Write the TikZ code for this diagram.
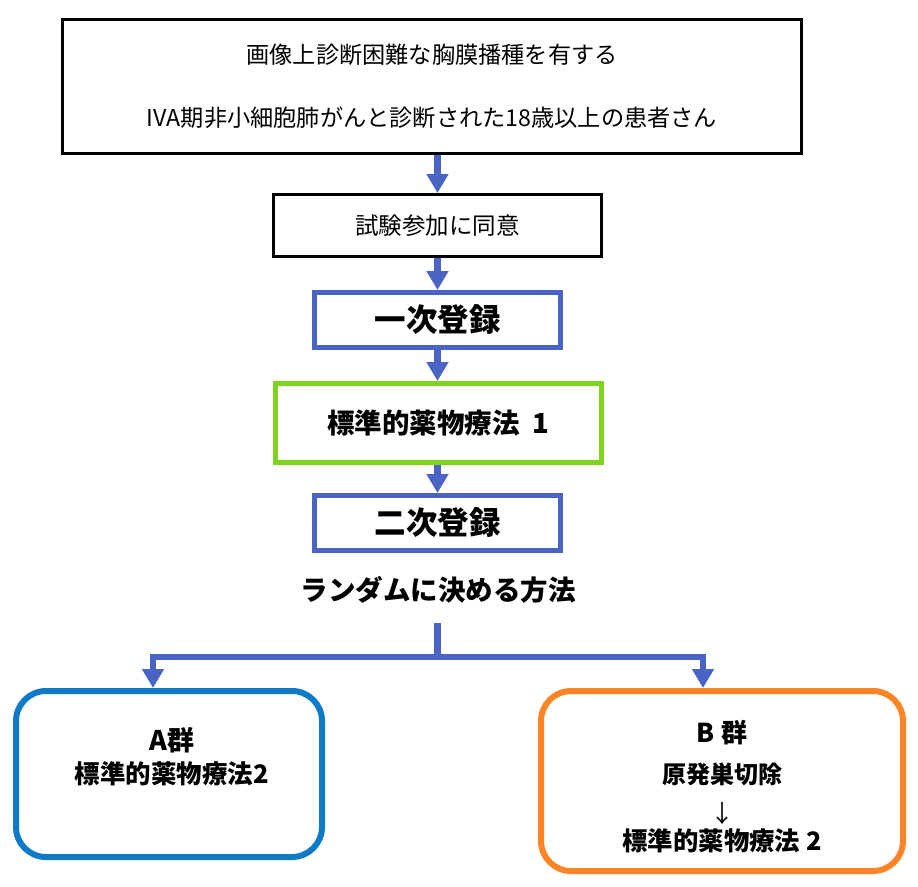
\documentclass[tikz,border=0pt]{standalone}
\usepackage{fontspec}
\setmainfont{Noto Sans CJK JP}
\usetikzlibrary{arrows.meta}
\definecolor{flowblue}{RGB}{74,100,198}
\definecolor{chemogreen}{RGB}{126,211,33}
\definecolor{armablue}{RGB}{14,122,200}
\definecolor{armborange}{RGB}{255,132,38}
\begin{document}
\begin{tikzpicture}[x=1pt,y=-1pt,line join=miter,
    box/.style={draw,line width=3pt,inner sep=0pt,align=center},
    regbox/.style={box,draw=flowblue,line width=5pt,minimum width=246pt,minimum height=55pt,font=\fontsize{31.5}{36}\selectfont\bfseries},
    armbox/.style={draw,line width=6pt,rounded corners=30pt,inner sep=0pt},
    flow/.style={draw=flowblue,line width=6.5pt,-{Triangle[width=21pt,length=19pt]}}]
    \useasboundingbox (0,0) rectangle (918,886);
    % eligibility and consent
    \node[box,minimum width=739pt,minimum height=134pt,font=\fontsize{23.2}{63}\selectfont] (elig) at (432,86.5)
        {画像上診断困難な胸膜播種を有する\\IVA期非小細胞肺がんと診断された18歳以上の患者さん};
    \node[box,minimum width=328pt,minimum height=62pt,font=\fontsize{23.5}{26}\selectfont] (consent) at (437.5,225.5) {試験参加に同意};
    % registration and first-line therapy
    \node[regbox] (reg1) at (437.5,320) {一次登録};
    \node[box,draw=chemogreen,line width=5pt,minimum width=326pt,minimum height=79pt,font=\fontsize{27.5}{30}\selectfont\bfseries] (chemo1) at (438.5,423) {標準的薬物療法\hspace{0.25em} 1};
    \node[regbox] (reg2) at (437.5,523) {二次登録};
    \node[font=\fontsize{27.5}{32}\selectfont\bfseries] (rand) at (438,590) {ランダムに決める方法};
    \coordinate (fork) at (437.5,623);
    % the two arms
    \node[armbox,draw=armablue,minimum width=306pt,minimum height=166pt] (armA) at (169,774) {};
    \node[align=center,font=\fontsize{25.5}{33}\selectfont\bfseries] (armAtxt) at (172,757)
        {{\fontsize{27}{33}\selectfont A群}\\標準的薬物療法2};
    \node[armbox,draw=armborange,minimum width=362pt,minimum height=180pt] (armB) at (722,781) {};
    \node[align=center,font=\fontsize{24}{40}\selectfont\bfseries] (armBtxt) at (722,787)
        {{\fontsize{26}{40}\selectfont B 群}\\[1pt]原発巣切除\\[-1pt]{\mdseries ↓}\\[-12pt]{\fontsize{25.4}{40}\selectfont 標準的薬物療法 2}};
    % arrows
    \draw[flow] (elig.south -| consent.north) -- (consent.north);
    \draw[flow] (consent.south) -- (reg1.north);
    \draw[flow] (reg1.south) -- (chemo1.north -| reg1.south);
    \draw[flow] (chemo1.south -| reg2.north) -- (reg2.north);
    \draw[flow] (fork) -- ++(0,34) -| ([xshift=-16pt]armA.north);
    \draw[flow] (fork) -- ++(0,34) -| ([xshift=-19pt]armB.north);
\end{tikzpicture}
\end{document}
